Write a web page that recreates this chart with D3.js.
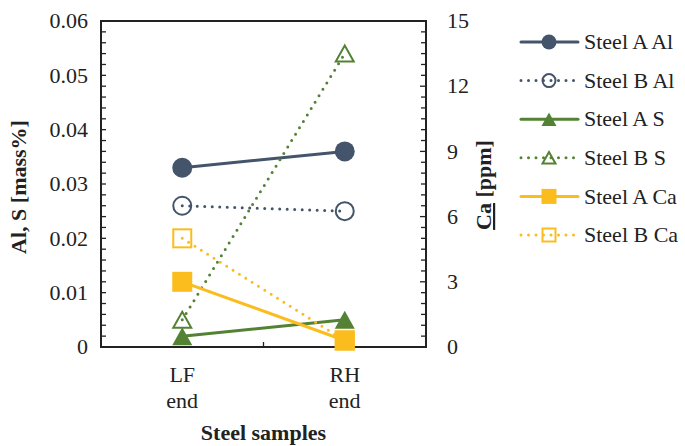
<!DOCTYPE html>
<html>
<head>
<meta charset="utf-8">
<script src="https://cdn.jsdelivr.net/npm/d3@7"></script>
<style>
  body { margin: 0; background: #fff; }
</style>
</head>
<body>
<div id="chart"></div>
<script>
// Data
let categories = ['LF end', 'RH end'];
let steelA_Al = [0.033, 0.036];
let steelB_Al = [0.026, 0.025];
let steelA_S = [0.002, 0.005];
let steelB_S = [0.005, 0.054];
let steelA_Ca = [3.0, 0.3];   // ppm, right axis
let steelB_Ca = [5.0, 0.3];   // ppm, right axis
let leftTicks = [0, 0.01, 0.02, 0.03, 0.04, 0.05, 0.06];
let rightTicks = [0, 3, 6, 9, 12, 15];

let blue = '#44546a';
let green = '#548235';
let yellow = '#fbbd1e';
let serif = "'Liberation Serif', 'Times New Roman', Times, 'DejaVu Serif', serif";

let series = [
    { name: 'Steel A Al', values: steelA_Al, axis: 'left', color: blue, dotted: false, marker: 'circle', filled: true },
    { name: 'Steel B Al', values: steelB_Al, axis: 'left', color: blue, dotted: true, marker: 'circle', filled: false },
    { name: 'Steel A S', values: steelA_S, axis: 'left', color: green, dotted: false, marker: 'triangle', filled: true },
    { name: 'Steel B S', values: steelB_S, axis: 'left', color: green, dotted: true, marker: 'triangle', filled: false },
    { name: 'Steel A Ca', values: steelA_Ca, axis: 'right', color: yellow, dotted: false, marker: 'square', filled: true },
    { name: 'Steel B Ca', values: steelB_Ca, axis: 'right', color: yellow, dotted: true, marker: 'square', filled: false }
];

let W = 685, H = 446;
let plot = { left: 101, right: 426, top: 21, bottom: 347 };

let svg = d3.select('#chart').append('svg')
    .attr('width', W)
    .attr('height', H)
    .attr('font-family', serif)
    .style('font-family', serif);

let xScale = d3.scaleBand().domain(categories).range([plot.left, plot.right]);
let yLeft = d3.scaleLinear().domain([0, 0.06]).range([plot.bottom, plot.top]);
let yRight = d3.scaleLinear().domain([0, 15]).range([plot.bottom, plot.top]);

// Minor ticks (inward)
let leftMinor = d3.range(0, 0.0601, 0.002);
let rightMinor = d3.range(0, 15.01, 0.5);

let axisG = svg.append('g').attr('stroke', '#222').attr('stroke-width', 1.3);

leftMinor.forEach(function(v) {
    axisG.append('line')
        .attr('x1', plot.left).attr('x2', plot.left + 5)
        .attr('y1', yLeft(v)).attr('y2', yLeft(v));
});
rightMinor.forEach(function(v) {
    let major = Math.abs(v / 3 - Math.round(v / 3)) < 1e-6;
    axisG.append('line')
        .attr('x1', plot.right).attr('x2', plot.right - (major ? 6 : 5))
        .attr('y1', yRight(v)).attr('y2', yRight(v));
});
// x ticks at category boundaries
[plot.left, plot.left + xScale.bandwidth(), plot.right].forEach(function(x) {
    axisG.append('line')
        .attr('x1', x).attr('x2', x)
        .attr('y1', plot.bottom).attr('y2', plot.bottom - 5);
});

// Frame
svg.append('rect')
    .attr('x', plot.left).attr('y', plot.top)
    .attr('width', plot.right - plot.left)
    .attr('height', plot.bottom - plot.top)
    .attr('fill', 'none')
    .attr('stroke', '#222')
    .attr('stroke-width', 2);

// Left tick labels
svg.selectAll('.ltick').data(leftTicks).enter().append('text')
    .attr('class', 'ltick')
    .attr('x', 88)
    .attr('y', function(d) { return yLeft(d); })
    .attr('dy', '0.33em')
    .attr('text-anchor', 'end')
    .attr('fill', '#222')
    .style('font-size', '22px')
    .text(function(d) { return d === 0 ? '0' : d.toFixed(2); });

// Right tick labels
svg.selectAll('.rtick').data(rightTicks).enter().append('text')
    .attr('class', 'rtick')
    .attr('x', 447)
    .attr('y', function(d) { return yRight(d); })
    .attr('dy', '0.33em')
    .attr('text-anchor', 'start')
    .attr('fill', '#222')
    .style('font-size', '22px')
    .text(function(d) { return d; });

// Category labels
categories.forEach(function(c) {
    let parts = c.split(' ');
    let cx = xScale(c) + xScale.bandwidth() / 2;
    let t = svg.append('text')
        .attr('x', cx)
        .attr('y', 382)
        .attr('text-anchor', 'middle')
        .attr('fill', '#222')
        .style('font-size', '22px');
    t.append('tspan').attr('x', cx).text(parts[0]);
    t.append('tspan').attr('x', cx).attr('dy', 26).text(parts[1]);
});

// Axis titles
svg.append('text')
    .attr('x', (plot.left + plot.right) / 2)
    .attr('y', 440)
    .attr('text-anchor', 'middle')
    .attr('fill', '#222')
    .style('font-size', '22px')
    .style('font-weight', 'bold')
    .text('Steel samples');

svg.append('text')
    .attr('transform', 'translate(26,187) rotate(-90)')
    .attr('text-anchor', 'middle')
    .attr('fill', '#222')
    .style('font-size', '22px')
    .style('font-weight', 'bold')
    .text('Al, S [mass%]');

let caTitle = svg.append('text')
    .attr('transform', 'translate(491,185) rotate(-90)')
    .attr('text-anchor', 'middle')
    .attr('fill', '#222')
    .style('font-size', '22px')
    .style('font-weight', 'bold');
caTitle.append('tspan').style('text-decoration', 'underline').text('Ca');
caTitle.append('tspan').text(' [ppm]');

// Marker drawing
function drawMarker(g, s, cx, cy, size) {
    let sw = 2;
    let fill = s.filled ? s.color : 'none';
    if (s.marker === 'circle') {
        g.append('circle')
            .attr('cx', cx).attr('cy', cy)
            .attr('r', s.filled ? size / 2 : size / 2 - 1)
            .attr('fill', fill)
            .attr('stroke', s.color)
            .attr('stroke-width', s.filled ? 0 : sw);
    } else if (s.marker === 'triangle') {
        let h = size * 0.9, w = size;
        if (!s.filled) { h -= 2; w -= 2; }
        g.append('path')
            .attr('d', 'M' + cx + ',' + (cy - h / 2) + 'L' + (cx + w / 2) + ',' + (cy + h / 2) + 'L' + (cx - w / 2) + ',' + (cy + h / 2) + 'Z')
            .attr('fill', fill)
            .attr('stroke', s.color)
            .attr('stroke-width', s.filled ? 0 : sw);
    } else {
        let a = s.filled ? size : size - 2;
        g.append('rect')
            .attr('x', cx - a / 2).attr('y', cy - a / 2)
            .attr('width', a).attr('height', a)
            .attr('fill', fill)
            .attr('stroke', s.color)
            .attr('stroke-width', s.filled ? 0 : sw);
    }
}

function styleLine(sel, s) {
    sel.attr('fill', 'none')
        .attr('stroke', s.color)
        .attr('stroke-width', 3)
        .attr('stroke-linecap', 'round');
    if (s.dotted) sel.attr('stroke-dasharray', '0 7.5');
}

// Series
let seriesG = svg.append('g');
series.forEach(function(s) {
    let yScale = s.axis === 'left' ? yLeft : yRight;
    let pts = s.values.map(function(v, i) {
        return [xScale(categories[i]) + xScale.bandwidth() / 2, yScale(v)];
    });
    styleLine(seriesG.append('path').attr('d', d3.line()(pts)), s);
    pts.forEach(function(p) {
        drawMarker(seriesG, s, p[0], p[1], 20);
    });
});

// Legend
let legendG = svg.append('g');
series.forEach(function(s, i) {
    let y = 42 + i * 38.6;
    styleLine(legendG.append('line')
        .attr('x1', 521).attr('x2', 578)
        .attr('y1', y).attr('y2', y), s);
    drawMarker(legendG, s, 549, y, 15);
    legendG.append('text')
        .attr('x', 584)
        .attr('y', y)
        .attr('dy', '0.33em')
        .attr('fill', '#222')
        .style('font-size', '22px')
        .text(s.name);
});
</script>
</body>
</html>
